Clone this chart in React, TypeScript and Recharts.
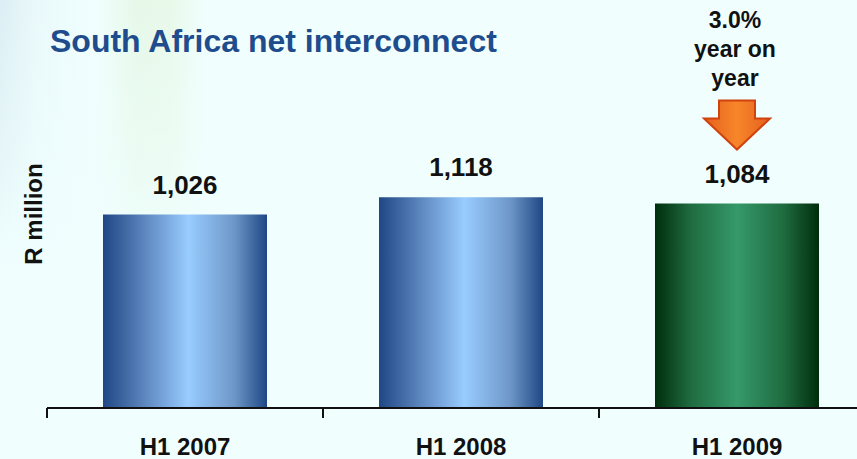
import { BarChart, Bar, XAxis, YAxis, Cell, LabelList } from "recharts";

const periods = ["H1 2007", "H1 2008", "H1 2009"];
const interconnect = [1026, 1118, 1084];
const yMax = 1400;

const data = periods.map((period, i) => ({ period, value: interconnect[i] }));

const FONT = "'Liberation Sans', Arial, sans-serif";
const last = interconnect.length - 1;
const yoy = ((interconnect[last] - interconnect[last - 1]) / interconnect[last - 1]) * 100;

// value above each bar; the latest bar also gets the year-on-year note + arrow
const ValueLabel = (props: any) => {
  const { x, y, width, value, index } = props;
  const cx = x + width / 2;
  return (
    <g>
      <text x={cx} y={y - 21} textAnchor="middle" fontFamily={FONT} fontWeight="bold" fontSize={26} fill="#111">
        {Number(value).toLocaleString("en-US")}
      </text>
      {index === last && (
        <g>
          <text textAnchor="middle" fontFamily={FONT} fontWeight="bold" fontSize={23} fill="#111">
            <tspan x={cx - 2} y={y - 176}>{Math.abs(yoy).toFixed(1)}%</tspan>
            <tspan x={cx - 2} y={y - 147}>year on</tspan>
            <tspan x={cx - 2} y={y - 118}>year</tspan>
          </text>
          <path
            d={`M${cx - 18},${y - 103} H${cx + 18} V${y - 85} H${cx + 33} L${cx},${y - 54} L${cx - 33},${y - 85} H${cx - 18} Z`}
            fill="url(#arrowFill)"
            stroke="#D0420E"
            strokeWidth={2}
            strokeLinejoin="miter"
          />
        </g>
      )}
    </g>
  );
};

const PeriodTick = (props: any) => {
  const { x, y, payload } = props;
  const half = payload && payload.offset ? payload.offset : 138;
  return (
    <g>
      <line x1={x - half} y1={y} x2={x - half} y2={y + 10} stroke="#111" strokeWidth={2} />
      <text x={x} y={y + 47} textAnchor="middle" fontFamily={FONT} fontWeight="bold" fontSize={24} fill="#111">
        {payload.value}
      </text>
    </g>
  );
};

const YTitle = (props: any) => {
  const vb = props.viewBox || { x: 0, y: 0 };
  const cx = vb.x + 33;
  const cy = 214;
  return (
    <text
      x={cx}
      y={cy}
      transform={`rotate(-90 ${cx} ${cy})`}
      textAnchor="middle"
      dominantBaseline="central"
      fontFamily={FONT}
      fontWeight="bold"
      fontSize={24}
      fill="#111"
    >
      R million
    </text>
  );
};

export default function App() {
  return (
    <div
      style={{
        position: "fixed",
        left: 0,
        top: 0,
        width: 857,
        height: 459,
        overflow: "hidden",
        backgroundColor: "#F0FFFE",
        backgroundImage:
          "linear-gradient(to bottom, rgba(240,255,254,0) 0%, rgba(240,255,254,0.5) 35%, rgba(240,255,254,1) 60%), linear-gradient(to right, #DCEEF4 0%, #E9F8FA 4%, #F0FFFE 11%, #E6F8E8 16%, #E8F9EA 20%, #F0FFFE 24%, #F0FFFE 100%)",
      }}
    >
      <div
        style={{
          position: "absolute",
          left: 50,
          top: 25,
          fontFamily: FONT,
          fontWeight: "bold",
          fontSize: 32,
          lineHeight: "32px",
          color: "#1E4C8C",
          whiteSpace: "nowrap",
        }}
      >
        South Africa net interconnect
      </div>
      <div style={{ position: "absolute", left: 0, top: 0 }}>
        <BarChart
          width={880}
          height={459}
          data={data}
          margin={{ top: 144, right: 5, left: 0, bottom: 0 }}
          barCategoryGap={56}
        >
          <defs>
            <linearGradient id="blueBar" x1="0" y1="0" x2="1" y2="0">
              <stop offset="0%" stopColor="#1F4785" />
              <stop offset="20%" stopColor="#5079B2" />
              <stop offset="52%" stopColor="#99CCFF" />
              <stop offset="80%" stopColor="#6E97C8" />
              <stop offset="100%" stopColor="#1F4785" />
            </linearGradient>
            <linearGradient id="greenBar" x1="0" y1="0" x2="1" y2="0">
              <stop offset="0%" stopColor="#002E0C" />
              <stop offset="22%" stopColor="#1F6C40" />
              <stop offset="50%" stopColor="#35996A" />
              <stop offset="78%" stopColor="#1F6C40" />
              <stop offset="100%" stopColor="#002E0C" />
            </linearGradient>
            <linearGradient id="arrowFill" x1="0" y1="0" x2="1" y2="0">
              <stop offset="0%" stopColor="#E5601E" />
              <stop offset="50%" stopColor="#F7862A" />
              <stop offset="100%" stopColor="#E5601E" />
            </linearGradient>
          </defs>
          <XAxis
            dataKey="period"
            height={51}
            tickSize={0}
            tickMargin={0}
            tickLine={false}
            axisLine={{ stroke: "#111", strokeWidth: 2 }}
            tick={<PeriodTick />}
            interval={0}
          />
          <YAxis
            width={47}
            domain={[0, yMax]}
            axisLine={false}
            tickLine={false}
            tick={false}
            label={{ content: <YTitle /> }}
          />
          <Bar dataKey="value" isAnimationActive={false}>
            {data.map((d, i) => (
              <Cell key={d.period} fill={i === last ? "url(#greenBar)" : "url(#blueBar)"} />
            ))}
            <LabelList dataKey="value" content={<ValueLabel />} />
          </Bar>
        </BarChart>
      </div>
    </div>
  );
}
